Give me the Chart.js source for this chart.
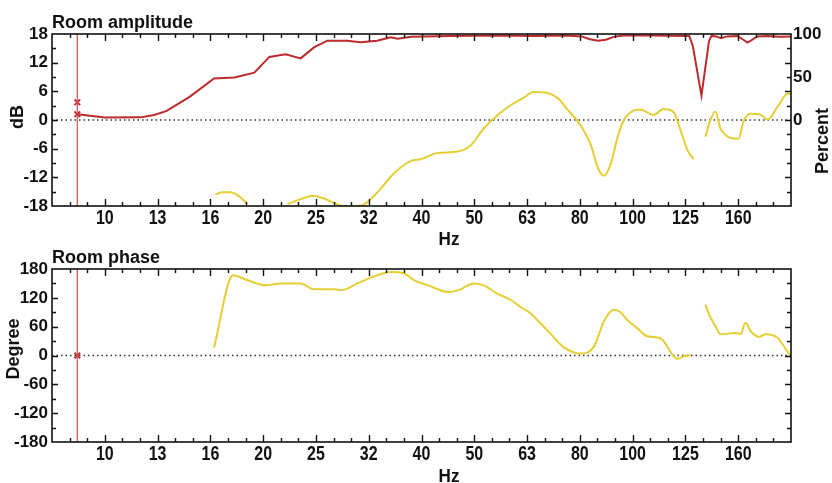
<!DOCTYPE html>
<html>
<head>
<meta charset="utf-8">
<script src="https://cdn.jsdelivr.net/npm/chart.js@4.4.1/dist/chart.umd.min.js"></script>
<style>
  body { margin: 0; background: #fff; }
  #wrap { position: relative; width: 832px; height: 483px; }
  canvas { position: absolute; left: 0; }
  #amp { top: 0; }
  #ph { top: 240px; }
</style>
</head>
<body>
<div id="wrap">
  <canvas id="amp" width="832" height="250"></canvas>
  <canvas id="ph" width="832" height="243"></canvas>
</div>
<script>
// x axis: third-octave positions (base 10) and their printed labels
const tickHz = [10, 12.59, 15.85, 19.95, 25.12, 31.62, 39.81, 50.12, 63.1, 79.43, 100, 125.9, 158.5];
const tickLabels = ["10", "13", "16", "20", "25", "32", "40", "50", "63", "80", "100", "125", "160"];
const hzMin = 7.943, hzMax = 199.5;

const dbTicks = [-18, -12, -6, 0, 6, 12, 18];
const pctTicks = [0, 50, 100];
const degTicks = [-180, -120, -60, 0, 60, 120, 180];

// cursor
const cursorHz = 8.87;
const cursorDb = [3.7, 1.2];
const cursorDeg = [0];

// room amplitude (dB, red)
const ampHz = [8.87, 10, 11.7, 12.4, 13.1, 14.5, 16.1, 17.6, 19.2, 20.5, 22.0, 23.5, 24.9, 26.4, 28.8, 30.5,
  32.8, 34.8, 35.9, 38, 45, 55, 65, 75, 80, 83, 86, 89, 92, 96, 110, 125, 128, 130, 135, 139.5, 141, 144,
  147, 151, 158, 162, 165, 168, 172, 180, 190, 200];
const ampDb = [1.2, 0.5, 0.55, 1.05, 1.9, 4.9, 8.7, 8.9, 9.9, 13.2, 13.75, 12.9, 15.2, 16.6, 16.6, 16.3,
  16.6, 17.3, 17.0, 17.4, 17.6, 17.7, 17.6, 17.7, 17.5, 16.9, 16.6, 16.8, 17.4, 17.7, 17.7, 17.6, 17.6, 15.5,
  5.1, 16.5, 17.6, 17.5, 17.1, 17.5, 17.6, 16.8, 16.2, 16.7, 17.5, 17.6, 17.4, 17.5];

// percent curve (yellow), null = gap
const pctHz = [16.2, 16.7, 17.3, 17.9, 18.6, 20.5,
  22.2, 23.5, 24.8, 25.95, 27.1, 28.3, 29.85, 30.8, 31.9, 33.3, 34.8, 36.4, 38.0, 39.7, 42.7, 46.6, 49.3,
  52.2, 54.6, 58.7, 62.1, 64.9, 69.0, 72.1, 75.3, 79.7, 83.3, 85.9, 88.1, 90.8, 93.6, 96.1, 99.0, 103.5,
  109.5, 114.4, 119.5, 123.2, 127.0, 130.4, 134,
  137.4, 140.4, 143.5, 146.7, 158.7, 162.1, 167.2, 174.7, 180.1, 188.2, 196.6, 200];
const pctVal = [-86.6, -84, -84, -88, -97, null,
  -97.7, -92, -88, -91, -96, -100, -100, -99, -92, -80, -66, -55, -47.8, -45.5, -38.5, -36.7, -29.7,
  -9.9, 2.1, 17.2, 25.6, 32.6, 31.5, 25.6, 12.0, -6.4, -28.6, -55.5, -64.7, -51.9, -20.4, -0.6, 8.7, 12.2,
  5.8, 12.8, 9.3, -11.7, -35, -45.5, null,
  -19.5, 0.3, 9.7, -10.1, -21.8, -2, 7.3, 6.2, 0.3, 15.5, 30.6, 30];

// room phase (degree, yellow), null = gap
const phHz = [16.1, 17.5, 18.6, 20.2, 21.5, 23.5, 24.9, 27.2, 28.1, 30.1, 31.9, 34.8, 36.9, 38.5, 41.0,
  44.8, 46.8, 50.0, 52.2, 55.4, 58.7, 61.3, 64.0, 66.9, 69.9, 74.1, 79.7, 84.5, 88.2, 92.1, 94.8, 97.7,
  102, 106.6, 112.9, 119.7, 121.4, 124.8, 128.7, 133,
  137.4, 139.6, 143.5, 146.7, 156.6, 160.1, 163.6, 167.2, 173.4, 178.5, 188, 196.2, 199.7];
const phDeg = [16, 167, 157, 146, 150, 150, 138, 138, 136, 150, 162, 174, 171, 157, 146,
  132, 136, 150, 146, 129, 116, 101, 88, 67, 45, 17, 4, 19, 71, 95, 90, 74,
  57, 40, 36, -2, -7, -2, 1, null,
  106, 85, 61, 44, 47, 45, 68, 51, 39, 44, 37, 9, -2];

const RED = "#bd2a2b";
const YEL = "#e6ce35";
const CUR = "#d65c5c";
const TXT = "#111";
const sans = '"Liberation Sans", Arial, sans-serif';

Chart.defaults.font.family = sans;
Chart.defaults.color = TXT;

function pts(xs, ys) {
  return xs.map((x, i) => ({ x: x, y: ys[i] }));
}

// narrow text: the original uses a condensed face, so squeeze Liberation Sans
function squeezed(ctx, txt, x, y, sx) {
  ctx.save();
  ctx.translate(x, y);
  ctx.scale(sx, 1);
  ctx.fillText(txt, 0, 0);
  ctx.restore();
}

// frame, inward ticks, zero line, x labels, titles
const frame = {
  id: "frame",
  beforeDatasetsDraw(chart, args, o) {
    const { ctx, chartArea: a } = chart;
    const y0 = chart.scales.y.getPixelForValue(0);
    ctx.save();
    ctx.strokeStyle = "#333";
    ctx.lineWidth = 1.3;
    ctx.setLineDash([1.5, 3]);
    ctx.beginPath();
    ctx.moveTo(a.left, y0);
    ctx.lineTo(a.right, y0);
    ctx.stroke();
    ctx.restore();
  },
  afterDraw(chart, args, o) {
    const { ctx, chartArea: a } = chart;
    const xs = chart.scales.x, ys = chart.scales.y;
    ctx.save();
    ctx.strokeStyle = TXT;
    ctx.lineWidth = 1.4;
    ctx.beginPath();
    // x ticks every 1/30 decade, longer at labels
    for (let k = 28; k <= 68; k++) {
      const px = Math.round(xs.getPixelForValue(Math.pow(10, k / 30))) + 0.5;
      const len = k % 3 === 0 ? 7 : 4;
      ctx.moveTo(px, a.bottom); ctx.lineTo(px, a.bottom - len);
      ctx.moveTo(px, a.top); ctx.lineTo(px, a.top + len);
    }
    // y ticks on both sides
    for (let v = ys.min + o.yMinor; v < ys.max; v += o.yMinor) {
      const py = Math.round(ys.getPixelForValue(v)) + 0.5;
      const len = (v - ys.min) % (2 * o.yMinor) === 0 ? 6 : 4;
      ctx.moveTo(a.left, py); ctx.lineTo(a.left + len, py);
      ctx.moveTo(a.right, py); ctx.lineTo(a.right - len, py);
    }
    ctx.stroke();
    ctx.lineWidth = 1.6;
    ctx.strokeRect(a.left, a.top, a.right - a.left, a.bottom - a.top);

    ctx.fillStyle = TXT;
    ctx.textBaseline = "alphabetic";

    // x tick labels
    ctx.textAlign = "center";
    ctx.font = "bold 20px " + sans;
    tickHz.forEach((v, i) => {
      squeezed(ctx, tickLabels[i], xs.getPixelForValue(v), a.bottom + 18, 0.8);
    });
    ctx.font = "bold 19px " + sans;
    squeezed(ctx, "Hz", 449, o.hzY, 0.9);

    ctx.textAlign = "left";
    ctx.font = "bold 18px " + sans;
    ctx.fillText(o.title, a.left, a.top - 6);

    ctx.textAlign = "center";
    ctx.textBaseline = "middle";
    const rot = (txt, x, y) => {
      ctx.save();
      ctx.translate(x, y);
      ctx.rotate(-Math.PI / 2);
      ctx.fillText(txt, 0, 0);
      ctx.restore();
    };
    rot(o.yTitle, o.yTitleX, o.yTitleY);
    if (o.rTitle) rot(o.rTitle, 823, 141);
    ctx.restore();
  }
};

const xAxis = (h) => ({
  type: "logarithmic",
  min: hzMin,
  max: hzMax,
  grid: { display: false, drawTicks: false },
  border: { display: false },
  afterBuildTicks: (s) => { s.ticks = tickHz.map((v) => ({ value: v })); },
  afterFit: (s) => { s.height = h; },
  ticks: { display: false, autoSkip: false, maxRotation: 0 }
});

const leftAxis = (list) => ({
  type: "linear",
  position: "left",
  min: list[0],
  max: list[list.length - 1],
  grid: { display: false, drawTicks: false },
  border: { display: false },
  afterFit: (s) => { s.width = 52; },
  ticks: { stepSize: list[1] - list[0], padding: 4, font: { size: 17, weight: "bold" } }
});

const lineDs = (data, color, extra) => Object.assign({
  data: data,
  borderColor: color,
  backgroundColor: color,
  borderWidth: 2,
  pointRadius: 0,
  spanGaps: false,
  fill: false
}, extra || {});

const cursorLine = (lo, hi) => lineDs([{ x: cursorHz, y: lo }, { x: cursorHz, y: hi }], CUR, { borderWidth: 1.3 });
const cursorMarks = (vals) => lineDs(vals.map((v) => ({ x: cursorHz, y: v })), "#c0303a", {
  showLine: false, pointStyle: "crossRot", pointRadius: 4, borderWidth: 2
});

const common = {
  responsive: false,
  animation: false,
  events: [],
  plugins: { legend: { display: false }, tooltip: { enabled: false } }
};

new Chart(document.getElementById("amp"), {
  type: "line",
  data: {
    datasets: [
      lineDs(pts(pctHz, pctVal), YEL, { yAxisID: "y2", cubicInterpolationMode: "monotone" }),
      lineDs(pts(ampHz, ampDb), RED),
      cursorLine(dbTicks[0], dbTicks[dbTicks.length - 1]),
      cursorMarks(cursorDb)
    ]
  },
  options: Object.assign({}, common, {
    layout: { padding: { top: 34 } },
    scales: {
      x: xAxis(44),
      y: leftAxis(dbTicks),
      y2: {
        type: "linear",
        position: "right",
        min: -100,
        max: 100,
        grid: { display: false, drawTicks: false },
        border: { display: false },
        afterFit: (s) => { s.width = 41; },
        afterBuildTicks: (s) => { s.ticks = pctTicks.map((v) => ({ value: v })); },
        ticks: { padding: 2, font: { size: 17, weight: "bold" } }
      }
    },
    plugins: Object.assign({}, common.plugins, {
      frame: { title: "Room amplitude", yTitle: "dB", yTitleX: 18, yTitleY: 117, rTitle: "Percent", yMinor: 3, hzY: 245 }
    })
  }),
  plugins: [frame]
});

new Chart(document.getElementById("ph"), {
  type: "line",
  data: {
    datasets: [
      lineDs(pts(phHz, phDeg), YEL, { cubicInterpolationMode: "monotone" }),
      cursorLine(degTicks[0], degTicks[degTicks.length - 1]),
      cursorMarks(cursorDeg)
    ]
  },
  options: Object.assign({}, common, {
    layout: { padding: { top: 29, right: 41 } },
    scales: {
      x: xAxis(41),
      y: leftAxis(degTicks)
    },
    plugins: Object.assign({}, common.plugins, {
      frame: { title: "Room phase", yTitle: "Degree", yTitleX: 14, yTitleY: 109, yMinor: 30, hzY: 242 }
    })
  }),
  plugins: [frame]
});
</script>
</body>
</html>
